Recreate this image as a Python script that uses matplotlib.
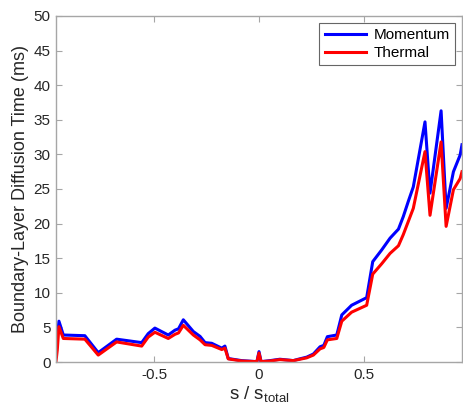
import matplotlib
matplotlib.use("Agg")
import matplotlib.pyplot as plt

plt.rcParams['font.family'] = ['Liberation Sans', 'DejaVu Sans']
plt.rcParams['mathtext.fontset'] = 'custom'
plt.rcParams['mathtext.rm'] = 'Liberation Sans'
plt.rcParams['mathtext.it'] = 'Liberation Sans'

s = [-0.971, -0.965, -0.957, -0.936, -0.833, -0.769, -0.681, -0.561, -0.530, -0.498,
     -0.434, -0.402, -0.385, -0.362, -0.314, -0.282, -0.258, -0.226, -0.178, -0.163,
     -0.147, -0.083, -0.010, 0.000, 0.010, 0.053, 0.100, 0.164, 0.188, 0.228,
     0.260, 0.292, 0.310, 0.327, 0.372, 0.396, 0.443, 0.515, 0.544, 0.587,
     0.627, 0.667, 0.690, 0.714, 0.738, 0.794, 0.818, 0.871, 0.895, 0.930,
     0.962, 0.971]

momentum = [0.8, 3.5, 5.9, 3.9, 3.8, 1.35, 3.3, 2.8, 4.1, 4.9,
            3.9, 4.6, 4.8, 6.1, 4.4, 3.7, 2.8, 2.7, 2.0, 2.3,
            0.5, 0.2, 0.05, 1.5, 0.05, 0.2, 0.4, 0.2, 0.4, 0.7,
            1.15, 2.2, 2.4, 3.66, 3.9, 6.8, 8.2, 9.3, 14.5, 16.2,
            17.9, 19.2, 21.0, 23.2, 25.3, 34.7, 24.4, 36.3, 22.2, 27.5,
            29.9, 31.4]

thermal = [0.1, 1.7, 5.1, 3.4, 3.3, 1.0, 2.9, 2.3, 3.6, 4.3,
           3.4, 4.0, 4.2, 5.3, 3.9, 3.2, 2.5, 2.4, 1.8, 2.0,
           0.45, 0.15, 0.05, 1.3, 0.05, 0.15, 0.35, 0.2, 0.35, 0.6,
           1.0, 1.9, 2.1, 3.2, 3.4, 5.9, 7.2, 8.2, 12.7, 14.2,
           15.7, 16.8, 18.4, 20.3, 22.2, 30.4, 21.2, 31.8, 19.6, 24.9,
           26.5, 27.5]

xticks = [-0.5, 0, 0.5]
xticklabels = ['-0.5', '0', '0.5']
yticks = list(range(0, 51, 5))

fig = plt.figure(figsize=(4.63, 4.11), dpi=100)
ax = fig.add_axes([56/463, 49/411, 406/463, 346/411])

ax.plot(s, momentum, color=(0, 0, 1), lw=2.2, label='Momentum')
ax.plot(s, thermal, color=(1, 0, 0), lw=2.2, label='Thermal')

ax.set_xlim(-0.971, 0.971)
ax.set_ylim(0, 50)
ax.set_xticks(xticks)
ax.set_xticklabels(xticklabels)
ax.set_yticks(yticks)

spine_c = '#a6a6a6'
for sp in ax.spines.values():
    sp.set_color(spine_c)
    sp.set_linewidth(1.0)
ax.tick_params(direction='in', length=4, width=0.8, color=spine_c,
               top=True, right=True, labelsize=11, labelcolor='#262626', pad=4)

ax.set_ylabel('Boundary-Layer Diffusion Time (ms)', fontsize=13, color='#262626', labelpad=3)
ax.set_xlabel(r'$\mathregular{s\ /\ s_{total}}$', fontsize=13.5, color='#262626', labelpad=2)

leg = ax.legend(loc='upper right', fontsize=11, frameon=True, fancybox=False,
                edgecolor='#404040', handlelength=2.7, borderaxespad=0.45,
                labelspacing=0.25, borderpad=0.35, handletextpad=0.5)
leg.get_frame().set_linewidth(0.8)
for ln in leg.get_lines():
    ln.set_linewidth(2.2)

fig.savefig('out.png', dpi=100)
